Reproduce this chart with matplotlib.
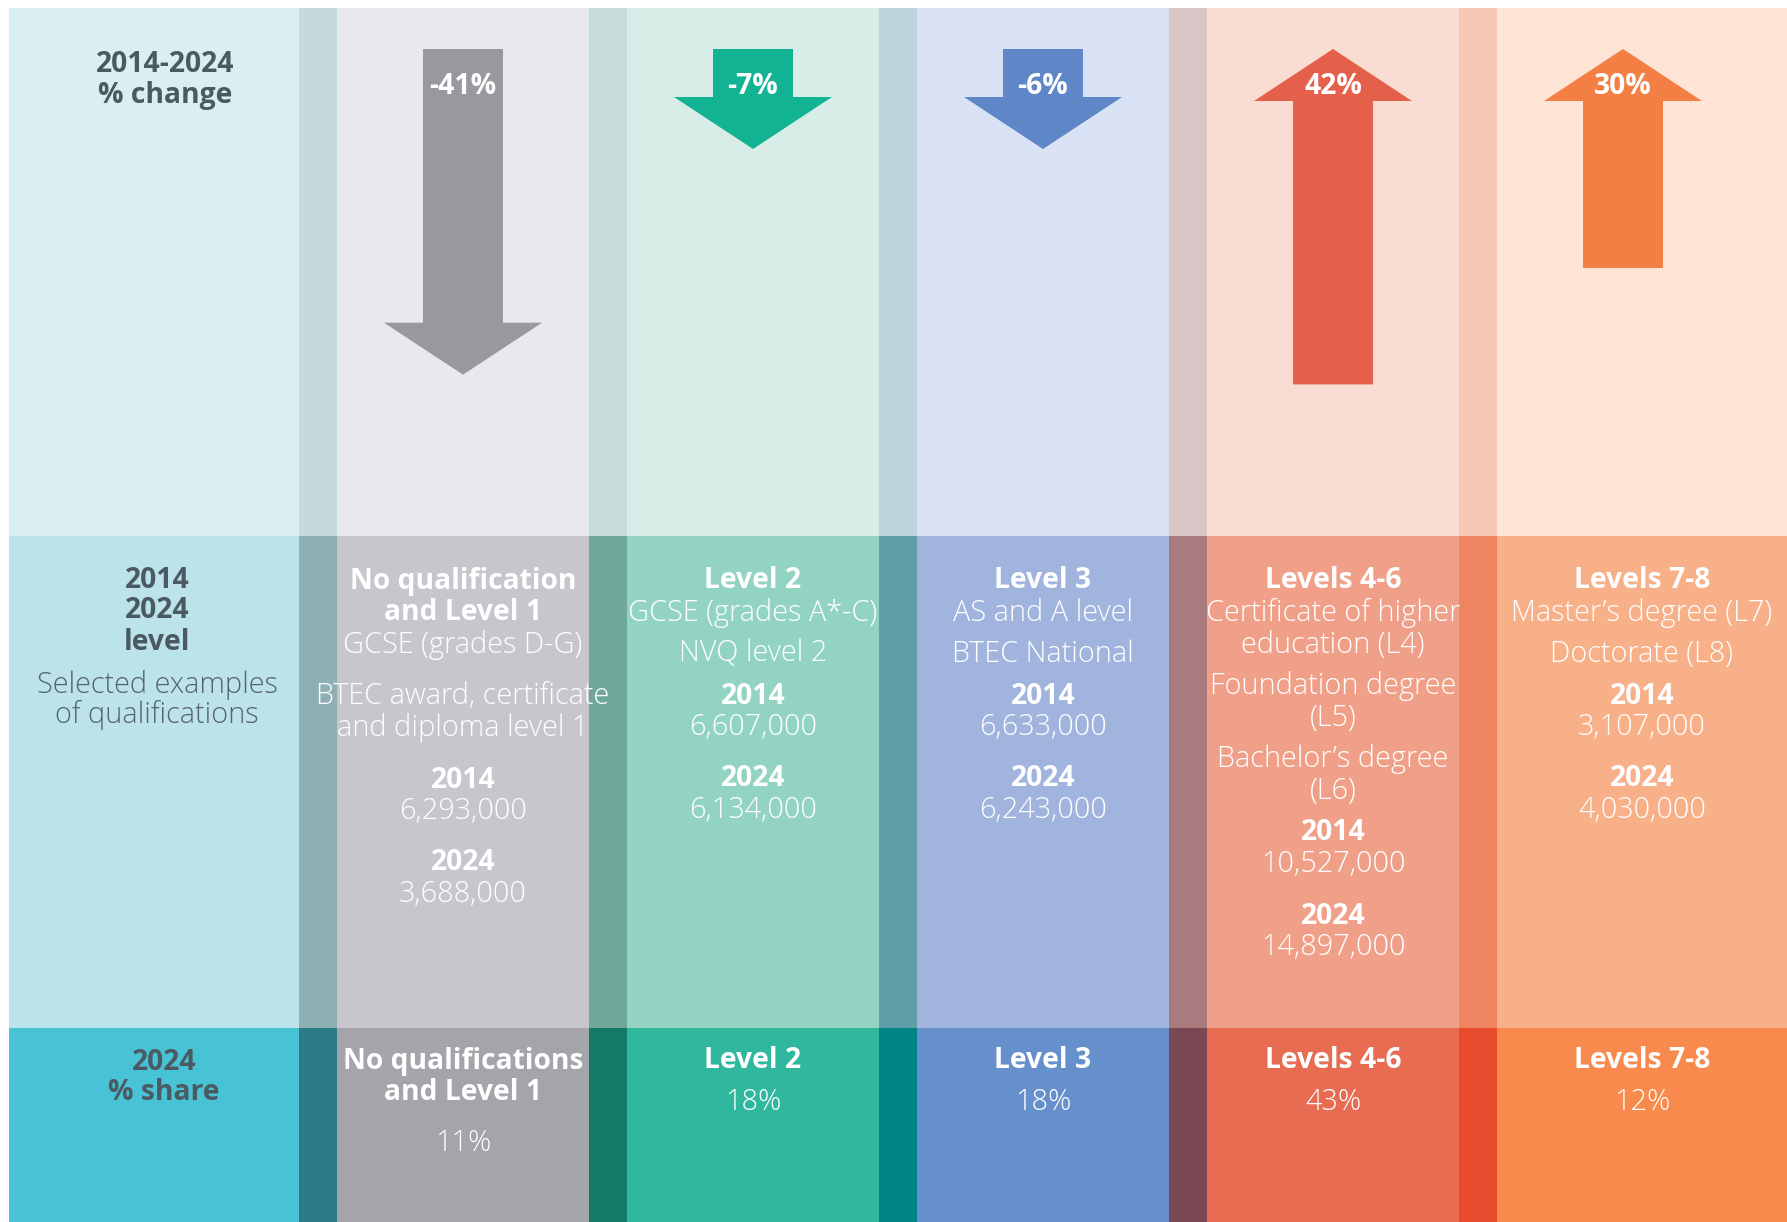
import matplotlib
matplotlib.use("Agg")
import matplotlib.pyplot as plt
from matplotlib.patches import Rectangle

plt.rcParams["font.family"] = ["Open Sans", "DejaVu Sans"]

# data
groups = ["No qualification\nand Level 1", "Level 2", "Level 3", "Levels 4-6", "Levels 7-8"]
short_groups = ["No qualifications\nand Level 1", "Level 2", "Level 3", "Levels 4-6", "Levels 7-8"]
examples = [
    ["GCSE (grades D-G)", "BTEC award, certificate\nand diploma level 1"],
    ["GCSE (grades A*-C)", "NVQ level 2"],
    ["AS and A level", "BTEC National"],
    ["Certificate of higher\neducation (L4)", "Foundation degree\n(L5)", "Bachelor\u2019s degree\n(L6)"],
    ["Master\u2019s degree (L7)", "Doctorate (L8)"],
]
change_pct = [-41, -7, -6, 42, 30]
count_2014 = [6293000, 6607000, 6633000, 10527000, 3107000]
count_2024 = [3688000, 6134000, 6243000, 14897000, 4030000]
share_2024 = [11, 18, 18, 43, 12]

# colours: (top, middle, bottom) for column body and for separator strip
col_colors = [
    ("#e8e8ee", "#c6c6cc", "#a4a4aa"),
    ("#d8ede8", "#93d3c2", "#2fb89e"),
    ("#d9e2f4", "#a0b4de", "#6690cc"),
    ("#f9ddd3", "#f0a088", "#e86c52"),
    ("#fde4d5", "#f8b088", "#f78a4c"),
]
strip_colors = [
    ("#c4dadb", "#8eafb3", "#2a7b86"),
    ("#c6dcd8", "#6fa89a", "#127a66"),
    ("#bcd5dc", "#5f9faa", "#008585"),
    ("#d9c4c6", "#a97b7e", "#7a4752"),
    ("#f6c7b3", "#ee8460", "#e84a2e"),
]
arrow_colors = ["#98989f", "#12b392", "#5f87c8", "#e5604a", "#f47f44"]
label_colors = ("#daeff2", "#bde3ea", "#48c3d6")
extra_gap = [10, 0, 0, 0, 0]  # the grey column is spaced a bit looser

W, H = 1787, 1222
fig = plt.figure(figsize=(W / 100, H / 100), dpi=100)
ax = fig.add_axes([0, 0, 1, 1])
ax.set_xlim(0, W)
ax.set_ylim(H, 0)
ax.axis("off")

rows = [(8, 536), (536, 1028), (1028, H)]
x0, unit, strip = 9, 290, 38

# label panel
for (ya, yb), c in zip(rows, label_colors):
    ax.add_patch(Rectangle((x0, ya), unit, yb - ya, color=c, lw=0))

for i in range(len(groups)):
    xs = x0 + unit * (i + 1)
    xe = xs + unit if i < len(groups) - 1 else W
    for r, (ya, yb) in enumerate(rows):
        ax.add_patch(Rectangle((xs, ya), strip, yb - ya, color=strip_colors[i][r], lw=0))
        ax.add_patch(Rectangle((xs + strip, ya), xe - xs - strip, yb - ya, color=col_colors[i][r], lw=0))

dark = "#4b5a62"
fs = 20.3   # bold
fl = 20.8   # light
ax.text(165, 64, "2014-2024", ha="center", va="center", fontsize=fs, fontweight="bold", color=dark)
ax.text(165, 95, "% change", ha="center", va="center", fontsize=fs, fontweight="bold", color=dark)
for y, s in zip([580, 611, 643], ["2014", "2024", "level"]):
    ax.text(157, y, s, ha="center", va="center", fontsize=fs, fontweight="bold", color=dark)
for y, s in zip([685, 715], ["Selected examples", "of qualifications"]):
    ax.text(157, y, s, ha="center", va="center", fontsize=fl, fontweight="light", color="#55656c")
ax.text(164, 1062, "2024", ha="center", va="center", fontsize=fs, fontweight="bold", color=dark)
ax.text(164, 1093, "% share", ha="center", va="center", fontsize=fs, fontweight="bold", color=dark)

top_y = 49
for i, pct in enumerate(change_pct):
    xs = x0 + unit * (i + 1) + strip
    cx = xs + (unit - strip) / 2
    length = max(100, 9.7 * abs(pct) - 72)
    if pct < 0:
        ax.arrow(cx, top_y, 0, length, width=80, head_width=158, head_length=52,
                 length_includes_head=True, color=arrow_colors[i], lw=0)
    else:
        ax.arrow(cx, top_y + length, 0, -length, width=80, head_width=158, head_length=52,
                 length_includes_head=True, color=arrow_colors[i], lw=0)
    ax.text(cx, 87, f"{pct}%", ha="center", va="center", fontsize=fs, fontweight="bold", color="white")

    # middle block
    tx = xs + (unit - strip) / 2 if i < len(groups) - 1 else (xs + W) / 2
    y = 581
    for line in groups[i].split("\n"):
        ax.text(tx, y, line, ha="center", va="center", fontsize=fs, fontweight="bold", color="white")
        y += 32
    for k, ex in enumerate(examples[i]):
        if k > 0:
            y += 9 + extra_gap[i]
        for line in ex.split("\n"):
            ax.text(tx, y, line, ha="center", va="center", fontsize=fl, fontweight="light", color="white")
            y += 32
    y += 10 + extra_gap[i]
    for yr, val in [("2014", count_2014[i]), ("2024", count_2024[i])]:
        ax.text(tx, y, yr, ha="center", va="center", fontsize=fs, fontweight="bold", color="white")
        ax.text(tx, y + 31, f"{val:,}", ha="center", va="center", fontsize=fl, fontweight="light", color="white")
        y += 31 + 52

    # bottom block
    y = 1061
    for line in short_groups[i].split("\n"):
        ax.text(tx, y, line, ha="center", va="center", fontsize=fs, fontweight="bold", color="white")
        y += 31
    y += 20 if "\n" in short_groups[i] else 10
    ax.text(tx, y, f"{share_2024[i]}%", ha="center", va="center", fontsize=fl, fontweight="light", color="white")

fig.savefig("out.png", dpi=100, facecolor="white")
